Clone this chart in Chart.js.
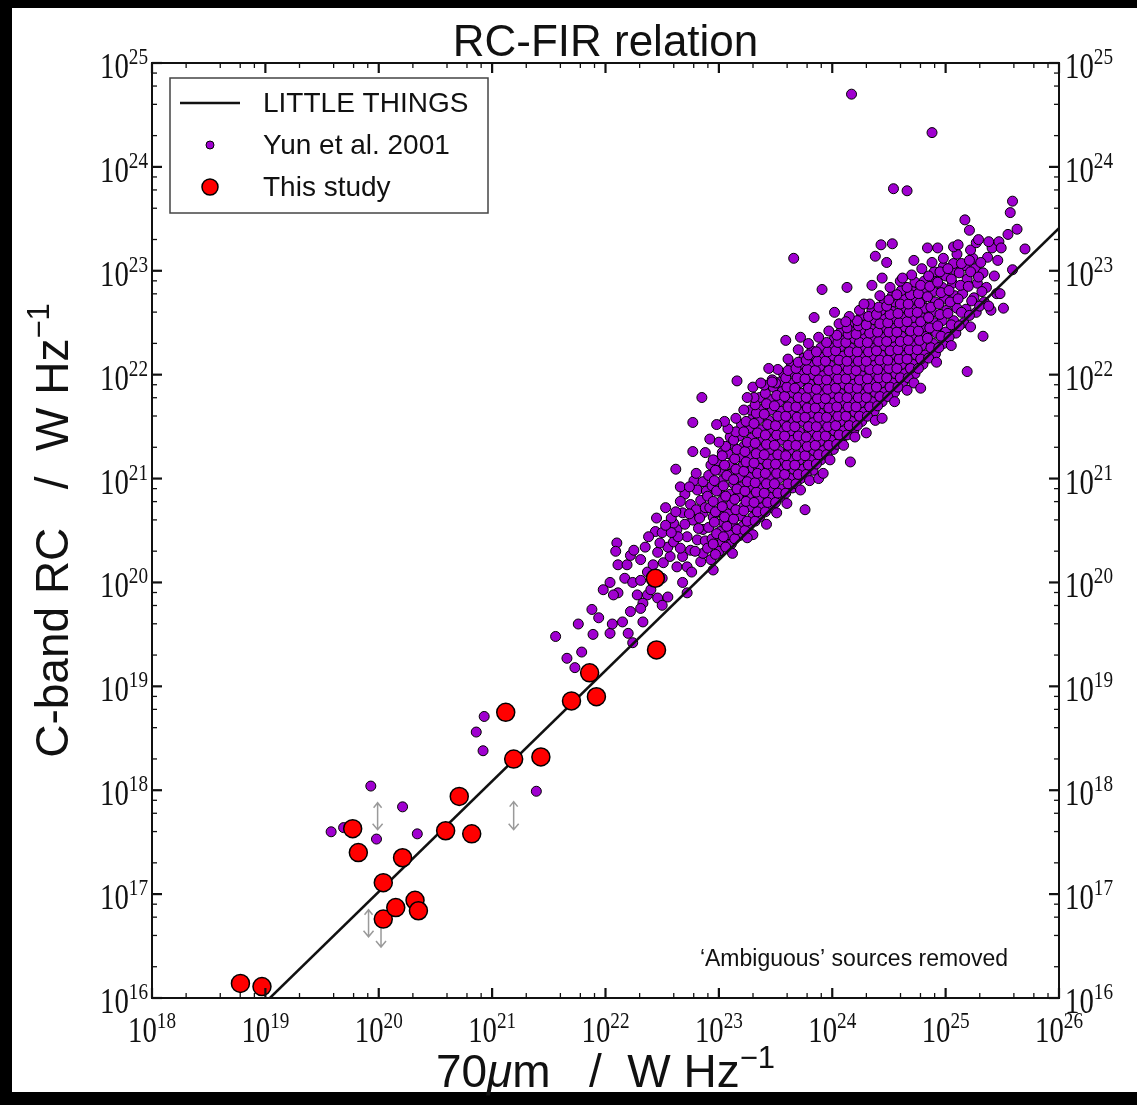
<!DOCTYPE html>
<html>
<head>
<meta charset="utf-8">
<script src="https://cdn.jsdelivr.net/npm/chart.js@4.4.0/dist/chart.umd.min.js"></script>
<style>
  html, body { margin: 0; padding: 0; background: #000; }
  #wrap { position: relative; width: 1137px; height: 1105px; }
</style>
</head>
<body>
<div id="wrap"><canvas id="chart" width="1137" height="1105"></canvas></div>
<script>
// RC-FIR relation: log10 values
const xTickExp = [18, 19, 20, 21, 22, 23, 24, 25, 26];
const yTickExp = [16, 17, 18, 19, 20, 21, 22, 23, 24, 25];
const minorSubs = [2, 4, 6, 8];

// LITTLE THINGS fit line (log10 L70, log10 RC)
const littleL = [19.04, 26.0];
const littleRC = [16.0, 23.41];

// This study (log10 L70, log10 RC)
const studyL = [18.78, 18.97, 19.77, 19.82, 20.04, 20.04, 20.15, 20.21, 20.32, 20.35,
                20.59, 20.71, 20.82, 21.12, 21.19, 21.43, 21.70, 21.86, 21.92, 22.44, 22.45];
const studyRC = [16.14, 16.11, 17.63, 17.40, 17.11, 16.76, 16.87, 17.35, 16.94, 16.84,
                 17.61, 17.94, 17.58, 18.75, 18.30, 18.32, 18.86, 19.13, 18.90, 20.04, 19.35];

// gray limit arrows (log10 L70, low / high log10 RC)
const limL = [19.99, 21.19, 19.91, 20.02];
const limLo = [17.62, 17.62, 16.59, 16.49];
const limHi = [17.88, 17.89, 16.85, 16.75];

// Yun et al. 2001 sample (log10 L70, log10 RC)
const yunLog = [
  [19.58,17.60],[19.69,17.64],[19.93,18.04],[20.21,17.84],[20.34,17.58],[19.98,17.53],
  [20.86,18.56],[20.93,18.71],[20.92,18.38],[21.39,17.99],
  [22.10,20.38],[22.09,20.30],[22.53,20.72],[21.56,19.48],[21.66,19.27],[21.73,19.18],[21.79,19.33],
  [21.76,19.60],[21.89,19.50],[21.88,19.74],[21.94,19.66],[22.04,19.51],[22.06,19.60],[22.15,19.62],
  [22.22,19.72],[22.20,19.51],[22.33,19.62],[22.24,19.42],[21.98,19.93],[22.04,20.00],[22.11,19.90],
  [22.17,20.04],[22.24,20.00],[22.07,19.88],[22.11,20.17],[22.19,20.17],[22.22,20.26],[22.31,20.22],
  [22.25,20.31],[22.35,20.34],[22.44,20.49],[22.37,20.10],[22.50,20.04],[22.31,20.02],[22.28,19.88],
  [22.37,19.88],[22.46,19.85],[22.55,19.86],[22.50,19.78],[22.33,19.80],[22.31,19.75],[22.68,20.00],
  [22.72,19.90],[22.40,19.93],[22.42,20.17],[22.51,20.19],[22.57,20.25],[22.63,20.15],[22.68,20.25],
  [22.75,20.31],[22.55,20.34],[22.60,20.39],[22.50,20.48],[22.63,20.51],[22.72,20.44],[22.81,20.41],
  [22.77,20.60],[22.68,20.67],[22.60,20.57],[22.75,20.75],[22.84,20.79],[22.81,20.89],[22.86,20.67],
  [22.86,20.51],[22.72,20.15],[22.84,20.20],[22.86,20.28],[22.46,20.29],[22.38,20.44],
  [22.78,20.98],[22.70,20.85],[22.66,20.78],
  [22.58,20.62],[22.64,20.44],[22.70,20.56],[22.79,20.30],[22.82,20.52],[22.76,20.10],[22.66,20.33],
  [22.88,20.40],[22.89,20.88],[22.80,20.70],
  [22.62,20.68],[22.66,20.92],[22.74,20.66],[22.83,20.62],[22.88,20.72],[22.86,20.97],[22.74,20.92],
  [22.80,21.05],[22.58,20.48],[22.53,20.55],[22.45,20.62],[22.48,20.38],
  // dense band, first layer
  [22.93,20.22],[22.90,20.33],[22.94,20.42],[22.91,20.53],[22.95,20.63],[22.92,20.72],[22.90,20.83],[22.94,20.93],[22.91,21.03],[22.93,21.13],
  [23.00,20.30],[23.03,20.39],[23.01,20.49],[23.04,20.58],[22.99,20.68],[23.02,20.78],[23.00,20.88],[23.03,20.98],[23.01,21.08],[22.99,21.17],[23.03,21.25],
  [23.11,20.37],[23.09,20.46],[23.12,20.56],[23.08,20.66],[23.11,20.75],[23.10,20.85],[23.13,20.95],[23.09,21.04],[23.11,21.14],[23.08,21.24],[23.12,21.33],[23.10,21.40],
  [23.18,20.45],[23.21,20.54],[23.19,20.64],[23.22,20.73],[23.17,20.83],[23.20,20.92],[23.18,21.02],[23.21,21.12],[23.19,21.21],[23.22,21.31],[23.18,21.41],[23.20,21.52],
  [23.27,20.55],[23.30,20.63],[23.28,20.73],[23.26,20.82],[23.29,20.92],[23.27,21.01],[23.30,21.10],[23.28,21.20],[23.26,21.30],[23.29,21.39],[23.27,21.49],[23.30,21.58],[23.28,21.66],
  [23.36,20.63],[23.38,20.72],[23.35,20.81],[23.39,20.91],[23.37,21.00],[23.35,21.10],[23.38,21.19],[23.36,21.28],[23.39,21.38],[23.37,21.47],[23.35,21.57],[23.38,21.67],[23.36,21.78],
  [23.47,20.72],[23.45,20.82],[23.48,20.91],[23.46,21.00],[23.44,21.09],[23.47,21.19],[23.45,21.28],[23.48,21.37],[23.46,21.47],[23.44,21.56],[23.47,21.66],[23.45,21.76],[23.48,21.88],
  [23.54,20.82],[23.56,20.90],[23.53,21.00],[23.57,21.09],[23.55,21.18],[23.53,21.27],[23.56,21.37],[23.54,21.46],[23.57,21.55],[23.55,21.65],[23.53,21.74],[23.56,21.84],[23.54,21.93],[23.57,22.01],
  [23.65,20.91],[23.63,21.00],[23.66,21.09],[23.64,21.18],[23.62,21.27],[23.65,21.37],[23.63,21.46],[23.66,21.55],[23.64,21.64],[23.62,21.74],[23.65,21.83],[23.63,21.92],[23.66,22.02],[23.64,22.09],
  [23.72,21.00],[23.74,21.09],[23.71,21.18],[23.75,21.27],[23.73,21.36],[23.71,21.45],[23.74,21.55],[23.72,21.64],[23.75,21.73],[23.73,21.82],[23.71,21.92],[23.74,22.01],[23.72,22.10],[23.75,22.16],
  [23.83,21.08],[23.81,21.18],[23.84,21.27],[23.82,21.36],[23.80,21.45],[23.83,21.54],[23.81,21.63],[23.84,21.73],[23.82,21.82],[23.80,21.91],[23.83,22.00],[23.81,22.09],[23.84,22.18],[23.82,22.23],
  [23.90,21.18],[23.92,21.27],[23.89,21.36],[23.93,21.45],[23.91,21.54],[23.89,21.63],[23.92,21.72],[23.90,21.81],[23.93,21.90],[23.91,21.99],[23.89,22.08],[23.92,22.17],[23.90,22.26],
  [24.01,21.28],[23.99,21.37],[24.02,21.46],[24.00,21.55],[23.98,21.64],[24.01,21.73],[23.99,21.82],[24.02,21.91],[24.00,22.00],[23.98,22.09],[24.01,22.18],[23.99,22.27],[24.02,22.35],
  [24.08,21.37],[24.10,21.46],[24.07,21.55],[24.11,21.64],[24.09,21.73],[24.07,21.82],[24.10,21.91],[24.08,22.00],[24.11,22.09],[24.09,22.18],[24.07,22.27],[24.10,22.35],[24.08,22.42],
  [24.19,21.46],[24.17,21.55],[24.20,21.64],[24.18,21.73],[24.16,21.82],[24.19,21.91],[24.17,22.00],[24.20,22.09],[24.18,22.17],[24.16,22.26],[24.19,22.35],[24.17,22.43],[24.20,22.50],
  [24.26,21.55],[24.28,21.64],[24.25,21.73],[24.29,21.82],[24.27,21.91],[24.25,22.00],[24.28,22.08],[24.26,22.17],[24.29,22.26],[24.27,22.35],[24.25,22.43],[24.28,22.51],[24.26,22.57],
  [24.37,21.65],[24.35,21.74],[24.38,21.83],[24.36,21.92],[24.34,22.00],[24.37,22.09],[24.35,22.18],[24.38,22.27],[24.36,22.35],[24.34,22.44],[24.37,22.53],[24.35,22.62],
  [24.44,21.74],[24.46,21.83],[24.43,21.92],[24.47,22.01],[24.45,22.10],[24.43,22.19],[24.46,22.28],[24.44,22.36],[24.47,22.45],[24.45,22.54],[24.43,22.62],[24.46,22.70],
  [24.55,21.83],[24.53,21.92],[24.56,22.01],[24.54,22.10],[24.52,22.19],[24.55,22.27],[24.53,22.36],[24.56,22.45],[24.54,22.54],[24.52,22.62],[24.55,22.70],[24.53,22.76],
  [24.62,21.92],[24.64,22.01],[24.61,22.10],[24.65,22.19],[24.63,22.28],[24.61,22.37],[24.64,22.46],[24.62,22.55],[24.65,22.64],[24.63,22.73],[24.61,22.81],
  [24.73,22.01],[24.71,22.10],[24.74,22.19],[24.72,22.28],[24.70,22.37],[24.73,22.46],[24.71,22.55],[24.74,22.64],[24.72,22.72],[24.70,22.81],[24.73,22.89],
  [24.80,22.10],[24.82,22.19],[24.79,22.28],[24.83,22.37],[24.81,22.46],[24.79,22.55],[24.82,22.64],[24.80,22.73],[24.83,22.82],[24.81,22.90],
  [24.91,22.20],[24.89,22.30],[24.92,22.40],[24.90,22.50],[24.88,22.60],[24.91,22.70],[24.89,22.80],[24.92,22.90],[24.90,22.99],
  [24.98,22.30],[25.00,22.41],[24.97,22.52],[25.01,22.62],[24.99,22.73],[24.97,22.84],[25.00,22.95],[24.98,23.04],
  [25.09,22.40],[25.07,22.52],[25.10,22.64],[25.08,22.76],[25.06,22.88],[25.09,22.99],[25.07,23.07],
  [25.16,22.50],[25.18,22.63],[25.15,22.78],[25.19,22.92],[25.17,23.05],
  [25.27,22.60],[25.25,22.74],[25.28,22.88],[25.26,23.02],[25.24,23.12],
  [25.34,22.70],[25.36,22.84],[25.33,22.98],[25.37,23.13],
  [25.45,22.78],[25.43,22.95],[25.46,23.10],
  // dense band, second layer
  [22.97,20.27],[22.95,20.37],[22.98,20.47],[22.96,20.58],[22.97,20.68],[22.95,20.78],[22.98,20.88],[22.96,20.98],[22.97,21.08],[22.95,21.18],
  [23.06,20.34],[23.04,20.44],[23.07,20.54],[23.05,20.63],[23.03,20.73],[23.06,20.83],[23.04,20.93],[23.07,21.03],[23.05,21.13],[23.03,21.22],[23.06,21.31],
  [23.14,20.42],[23.16,20.51],[23.13,20.61],[23.15,20.70],[23.14,20.80],[23.16,20.90],[23.13,20.99],[23.15,21.09],[23.14,21.19],[23.16,21.28],[23.13,21.37],[23.15,21.45],
  [23.23,20.50],[23.25,20.59],[23.22,20.69],[23.24,20.78],[23.23,20.88],[23.25,20.97],[23.22,21.07],[23.24,21.16],[23.23,21.26],[23.25,21.35],[23.22,21.45],[23.24,21.55],
  [23.32,20.59],[23.34,20.68],[23.31,20.77],[23.33,20.87],[23.32,20.96],[23.34,21.05],[23.31,21.15],[23.33,21.24],[23.32,21.34],[23.34,21.44],[23.31,21.53],[23.33,21.63],[23.32,21.71],
  [23.41,20.68],[23.43,20.77],[23.40,20.86],[23.42,20.95],[23.41,21.05],[23.43,21.14],[23.40,21.23],[23.42,21.33],[23.41,21.42],[23.43,21.52],[23.40,21.62],[23.42,21.72],[23.41,21.82],
  [23.50,20.77],[23.52,20.86],[23.49,20.95],[23.51,21.05],[23.50,21.14],[23.52,21.23],[23.49,21.32],[23.51,21.42],[23.50,21.51],[23.52,21.60],[23.49,21.70],[23.51,21.80],[23.50,21.92],
  [23.59,20.86],[23.61,20.95],[23.58,21.04],[23.60,21.13],[23.59,21.22],[23.61,21.32],[23.58,21.41],[23.60,21.50],[23.59,21.60],[23.61,21.69],[23.58,21.79],[23.60,21.88],[23.59,21.97],[23.61,22.04],
  [23.68,20.95],[23.70,21.04],[23.67,21.13],[23.69,21.22],[23.68,21.32],[23.70,21.41],[23.67,21.50],[23.69,21.59],[23.68,21.69],[23.70,21.78],[23.67,21.87],[23.69,21.97],[23.68,22.06],[23.70,22.12],
  [23.77,21.04],[23.79,21.13],[23.76,21.22],[23.78,21.31],[23.77,21.40],[23.79,21.50],[23.76,21.59],[23.78,21.68],[23.77,21.78],[23.79,21.87],[23.76,21.96],[23.78,22.05],[23.77,22.14],[23.79,22.19],
  [23.86,21.14],[23.88,21.23],[23.85,21.32],[23.87,21.41],[23.86,21.50],[23.88,21.59],[23.85,21.68],[23.87,21.77],[23.86,21.86],[23.88,21.95],[23.85,22.04],[23.87,22.13],[23.86,22.22],
  [23.95,21.23],[23.97,21.32],[23.94,21.41],[23.96,21.50],[23.95,21.59],[23.97,21.68],[23.94,21.77],[23.96,21.86],[23.95,21.95],[23.97,22.04],[23.94,22.13],[23.96,22.22],[23.95,22.31],
  [24.04,21.33],[24.06,21.42],[24.03,21.51],[24.05,21.60],[24.04,21.69],[24.06,21.78],[24.03,21.87],[24.05,21.96],[24.04,22.05],[24.06,22.14],[24.03,22.23],[24.05,22.31],[24.04,22.38],
  [24.13,21.42],[24.15,21.51],[24.12,21.60],[24.14,21.69],[24.13,21.78],[24.15,21.87],[24.12,21.96],[24.14,22.05],[24.13,22.13],[24.15,22.22],[24.12,22.31],[24.14,22.39],[24.13,22.45],
  [24.22,21.51],[24.24,21.60],[24.21,21.69],[24.23,21.78],[24.22,21.87],[24.24,21.95],[24.21,22.04],[24.23,22.13],[24.22,22.22],[24.24,22.31],[24.21,22.39],[24.23,22.47],[24.22,22.52],
  [24.31,21.60],[24.33,21.69],[24.30,21.78],[24.32,21.87],[24.31,21.96],[24.33,22.05],[24.30,22.13],[24.32,22.22],[24.31,22.31],[24.33,22.40],[24.30,22.48],[24.32,22.56],
  [24.40,21.70],[24.42,21.79],[24.39,21.88],[24.41,21.97],[24.40,22.05],[24.42,22.14],[24.39,22.23],[24.41,22.32],[24.40,22.41],[24.42,22.49],[24.39,22.58],[24.41,22.65],
  [24.49,21.79],[24.51,21.88],[24.48,21.97],[24.50,22.06],[24.49,22.14],[24.51,22.23],[24.48,22.32],[24.50,22.41],[24.49,22.50],[24.51,22.58],[24.48,22.66],[24.50,22.72],
  [24.58,21.88],[24.60,21.97],[24.57,22.06],[24.59,22.15],[24.58,22.24],[24.60,22.32],[24.57,22.41],[24.59,22.50],[24.58,22.59],[24.60,22.68],[24.57,22.77],
  [24.67,21.97],[24.69,22.06],[24.66,22.15],[24.68,22.24],[24.67,22.33],[24.69,22.42],[24.66,22.51],[24.68,22.60],[24.67,22.68],[24.69,22.77],[24.66,22.84],
  [24.76,22.06],[24.78,22.15],[24.75,22.24],[24.77,22.33],[24.76,22.42],[24.78,22.51],[24.75,22.60],[24.77,22.69],[24.76,22.78],[24.78,22.86],
  [24.85,22.16],[24.87,22.26],[24.84,22.35],[24.86,22.45],[24.85,22.55],[24.87,22.65],[24.84,22.75],[24.86,22.85],[24.85,22.95],
  [24.94,22.26],[24.96,22.37],[24.93,22.47],[24.95,22.58],[24.94,22.68],[24.96,22.79],[24.93,22.89],[24.95,22.99],
  [25.03,22.36],[25.05,22.48],[25.02,22.59],[25.04,22.70],[25.03,22.81],[25.05,22.92],[25.02,23.02],
  [25.12,22.47],[25.14,22.60],[25.11,22.73],[25.13,22.86],[25.12,22.98],[25.14,23.07],
  [25.21,22.57],[25.23,22.71],[25.20,22.85],[25.22,22.99],[25.21,23.10],
  [25.30,22.66],[25.32,22.80],[25.29,22.94],[25.31,23.08],
  // upper edge of the band
  [23.00,21.35],[23.08,21.48],[23.15,21.58],[23.22,21.66],[23.31,21.78],[23.40,21.90],[23.52,22.05],
  [23.61,22.15],[23.70,22.24],[23.79,22.30],[23.88,22.36],[23.97,22.42],[24.06,22.49],[24.15,22.56],
  [24.24,22.62],[24.33,22.68],[24.42,22.76],[24.51,22.84],[24.60,22.90],[24.70,22.96],[24.79,23.02],
  [24.88,23.08],[24.98,23.12],[25.10,23.16],[25.22,23.20],[25.41,23.22],
  [23.25,21.78],[23.44,22.06],[23.72,22.36],[24.02,22.60],[24.35,22.86],[24.72,23.10],[23.05,21.55],
  [22.88,21.25],[22.92,21.38],
  // lower edge of the band
  [22.95,20.12],[23.12,20.28],[23.30,20.46],[23.42,20.56],[23.60,20.76],[23.80,20.98],[23.98,21.18],
  [24.20,21.40],[24.38,21.56],[24.55,21.74],[24.72,21.92],[24.92,22.12],[25.05,22.28],[25.22,22.46],
  [25.40,22.62],[25.48,22.78],[23.88,21.00],[24.30,21.44],
  // scatter below the band
  [24.78,21.87],[24.66,21.85],[24.44,21.58],[24.10,21.32],[24.16,21.16],[23.92,21.05],[23.76,20.70],
  [23.72,20.89],[23.51,20.67],[23.25,20.43],[25.59,23.01],[25.51,22.64],[25.38,22.66],[25.33,22.37],[25.19,22.03],
  // scatter above the band
  [24.17,24.70],[24.88,24.33],[24.54,23.79],[24.66,23.77],[23.66,23.12],[24.43,23.25],[24.53,23.26],
  [24.38,23.14],[24.48,23.08],[25.17,23.49],[25.21,23.39],[24.84,23.22],[24.93,23.22],[25.07,23.23],
  [25.11,23.25],[25.27,23.27],[25.59,23.67],[25.57,23.56],[25.63,23.40],[25.55,23.35],[25.70,23.21],
  [24.28,22.68],[24.44,22.93],[24.62,22.93],[23.91,22.82],[24.13,22.84],[23.84,22.55],[23.59,22.33],
  [24.12,22.51],[23.47,21.95],[22.85,21.78],[22.77,21.54],[22.98,21.52],[22.77,21.26],[22.62,21.09],
  [23.16,21.94],[23.30,21.88],[23.37,21.92],[23.47,21.93],[25.38,23.28],[25.47,23.28],[25.29,23.30],[25.49,23.22]
];

const SERIF = '"Liberation Serif", "DejaVu Serif", serif';
const SANS = '"Liberation Sans", Arial, sans-serif';

function drawPow(ctx, exp, x, yBase, align) {
  const sx = 0.8;
  ctx.save();
  ctx.font = '36px ' + SERIF;
  const w1 = ctx.measureText('10').width * sx;
  ctx.font = '24px ' + SERIF;
  const w2 = ctx.measureText(String(exp)).width * sx;
  const total = w1 + w2;
  const x0 = align === 'center' ? x - total / 2 : align === 'right' ? x - total : x;
  ctx.translate(x0, yBase);
  ctx.scale(sx, 1);
  ctx.fillStyle = '#111';
  ctx.textAlign = 'left';
  ctx.textBaseline = 'alphabetic';
  ctx.font = '36px ' + SERIF;
  ctx.fillText('10', 0, 0);
  ctx.font = '24px ' + SERIF;
  ctx.fillText(String(exp), w1 / sx, -14);
  ctx.restore();
}

function dot(ctx, x, y, r, fill, lw) {
  ctx.beginPath();
  ctx.arc(x, y, r, 0, Math.PI * 2);
  ctx.fillStyle = fill;
  ctx.fill();
  ctx.lineWidth = lw;
  ctx.strokeStyle = '#000';
  ctx.stroke();
}

// draw a run of [text, font, raise] pieces starting at x
function drawRun(ctx, parts, x, y) {
  parts.forEach(p => {
    ctx.font = p[1];
    ctx.fillText(p[0], x, y + p[2]);
    x += ctx.measureText(p[0]).width;
  });
}
function runWidth(ctx, parts) {
  let w = 0;
  parts.forEach(p => { ctx.font = p[1]; w += ctx.measureText(p[0]).width; });
  return w;
}

const mplPlugin = {
  id: 'mplFrame',
  beforeDraw(chart) {
    const ctx = chart.ctx;
    ctx.save();
    ctx.fillStyle = '#000';
    ctx.fillRect(0, 0, chart.width, chart.height);
    ctx.fillStyle = '#fff';
    ctx.fillRect(12, 8, chart.width - 12, 1084);
    ctx.restore();
  },
  beforeDatasetsDraw(chart) {
    const ctx = chart.ctx;
    const xs = chart.scales.x, ys = chart.scales.y;
    ctx.save();
    ctx.strokeStyle = '#9a9a9a';
    ctx.lineWidth = 1.5;
    limL.forEach((l, i) => {
      const px = xs.getPixelForValue(10 ** l);
      const top = ys.getPixelForValue(10 ** limHi[i]);
      const bot = ys.getPixelForValue(10 ** limLo[i]);
      ctx.beginPath();
      ctx.moveTo(px, top); ctx.lineTo(px, bot);
      ctx.moveTo(px - 4, top + 5); ctx.lineTo(px, top); ctx.lineTo(px + 4, top + 5);
      ctx.moveTo(px - 5, bot - 6); ctx.lineTo(px, bot); ctx.lineTo(px + 5, bot - 6);
      ctx.stroke();
    });
    ctx.restore();
  },
  afterDraw(chart) {
    const ctx = chart.ctx;
    const a = chart.chartArea;
    const xs = chart.scales.x, ys = chart.scales.y;
    ctx.save();

    // frame
    ctx.strokeStyle = '#111';
    ctx.lineWidth = 2;
    ctx.strokeRect(a.left, a.top, a.right - a.left, a.bottom - a.top);

    // ticks on all four sides, pointing inward
    const tick = (x1, y1, x2, y2, w) => {
      ctx.lineWidth = w;
      ctx.beginPath(); ctx.moveTo(x1, y1); ctx.lineTo(x2, y2); ctx.stroke();
    };
    xTickExp.forEach((e, i) => {
      const px = xs.getPixelForValue(10 ** e);
      tick(px, a.bottom, px, a.bottom - 10, 2.2);
      tick(px, a.top, px, a.top + 10, 2.2);
      if (i < xTickExp.length - 1) {
        minorSubs.forEach(s => {
          const mx = xs.getPixelForValue(s * 10 ** e);
          tick(mx, a.bottom, mx, a.bottom - 5, 1.3);
          tick(mx, a.top, mx, a.top + 5, 1.3);
        });
      }
      drawPow(ctx, e, px, a.bottom + 44, 'center');
    });
    yTickExp.forEach((e, i) => {
      const py = ys.getPixelForValue(10 ** e);
      tick(a.left, py, a.left + 10, py, 2.2);
      tick(a.right, py, a.right - 10, py, 2.2);
      if (i < yTickExp.length - 1) {
        minorSubs.forEach(s => {
          const my = ys.getPixelForValue(s * 10 ** e);
          tick(a.left, my, a.left + 5, my, 1.3);
          tick(a.right, my, a.right - 5, my, 1.3);
        });
      }
      drawPow(ctx, e, a.left - 4, py + 15, 'right');
      drawPow(ctx, e, a.right + 6, py + 15, 'left');
    });

    // title
    ctx.fillStyle = '#111';
    ctx.textBaseline = 'alphabetic';
    ctx.textAlign = 'center';
    ctx.font = '44px ' + SANS;
    ctx.fillText('RC-FIR relation', (a.left + a.right) / 2, 56);

    // x axis label
    ctx.textAlign = 'left';
    const xParts = [['70', '46px ' + SANS, 0], ['\u03bc', 'italic 46px ' + SANS, 0],
                    ['m   /  W Hz', '46px ' + SANS, 0], ['\u22121', '31px ' + SANS, -19]];
    drawRun(ctx, xParts, (a.left + a.right) / 2 - runWidth(ctx, xParts) / 2, 1087);

    // y axis label
    ctx.save();
    ctx.translate(68, (a.top + a.bottom) / 2);
    ctx.rotate(-Math.PI / 2);
    const yParts = [['C-band RC   /  W Hz', '46px ' + SANS, 0], ['\u22121', '31px ' + SANS, -19]];
    drawRun(ctx, yParts, -runWidth(ctx, yParts) / 2, 0);
    ctx.restore();

    // note
    ctx.textAlign = 'right';
    ctx.font = '23px ' + SANS;
    ctx.fillText('\u2018Ambiguous\u2019 sources removed', 1008, 966);

    // legend
    ctx.fillStyle = '#fff';
    ctx.fillRect(170, 78, 318, 135);
    ctx.strokeStyle = '#444';
    ctx.lineWidth = 1.5;
    ctx.strokeRect(170, 78, 318, 135);
    ctx.strokeStyle = '#111';
    ctx.lineWidth = 2.5;
    ctx.beginPath(); ctx.moveTo(180, 103); ctx.lineTo(240, 103); ctx.stroke();
    dot(ctx, 210, 145, 4, '#a000d0', 1);
    dot(ctx, 210, 187, 8, '#ff0000', 1.5);
    ctx.fillStyle = '#111';
    ctx.textAlign = 'left';
    ctx.textBaseline = 'middle';
    ctx.font = '28px ' + SANS;
    ctx.fillText('LITTLE THINGS', 263, 104);
    ctx.fillText('Yun et al. 2001', 263, 146);
    ctx.fillText('This study', 263, 188);
    ctx.restore();
  }
};

const toXY = (ls, rs) => ls.map((l, i) => ({ x: 10 ** l, y: 10 ** rs[i] }));

new Chart(document.getElementById('chart'), {
  type: 'scatter',
  data: {
    datasets: [
      {
        label: 'This study',
        data: toXY(studyL, studyRC),
        pointRadius: 9,
        pointBackgroundColor: '#ff0000',
        pointBorderColor: '#000',
        pointBorderWidth: 1.5,
        order: 0
      },
      {
        label: 'LITTLE THINGS',
        data: toXY(littleL, littleRC),
        showLine: true,
        borderColor: '#111',
        borderWidth: 2.5,
        pointRadius: 0,
        order: 1
      },
      {
        label: 'Yun et al. 2001',
        data: yunLog.map(p => ({ x: 10 ** p[0], y: 10 ** p[1] })),
        pointRadius: 5,
        pointBackgroundColor: '#a000d0',
        pointBorderColor: '#000',
        pointBorderWidth: 1,
        order: 2
      }
    ]
  },
  options: {
    responsive: false,
    devicePixelRatio: 1,
    animation: false,
    layout: { padding: { left: 152, right: 78, top: 63, bottom: 107 } },
    plugins: { legend: { display: false }, tooltip: { enabled: false } },
    scales: {
      x: { type: 'logarithmic', min: 1e18, max: 1e26, display: false },
      y: { type: 'logarithmic', min: 1e16, max: 1e25, display: false }
    }
  },
  plugins: [mplPlugin]
});
</script>
</body>
</html>
